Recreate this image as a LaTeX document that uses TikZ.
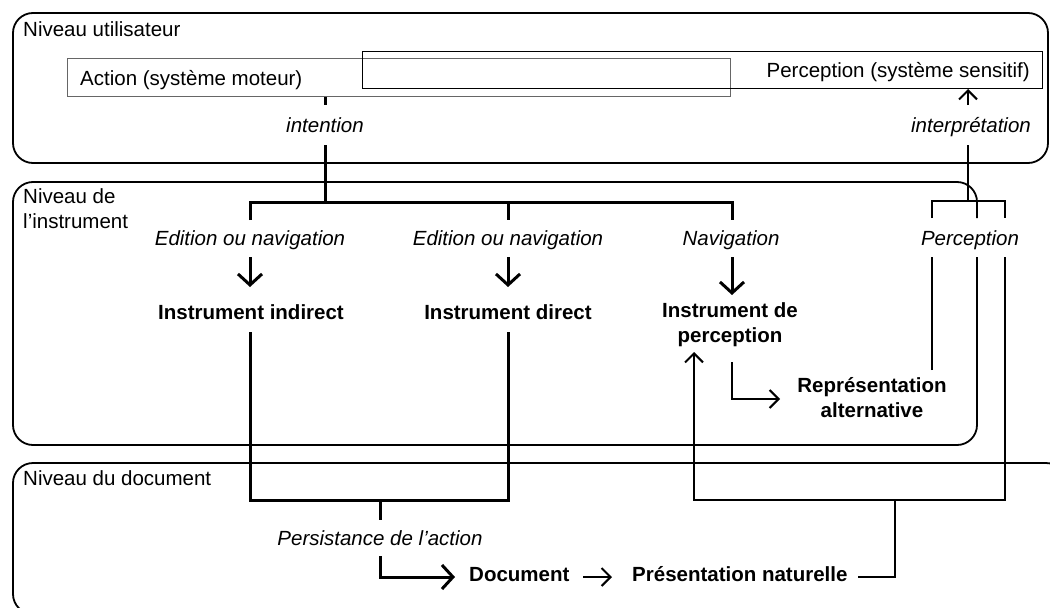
\documentclass[tikz,border=0pt]{standalone}
\usepackage{fontspec}
\setmainfont{Liberation Sans}
\usetikzlibrary{arrows.meta}
\begin{document}
\begin{tikzpicture}[x=1pt,y=-1pt,
  level/.style={line width=1.8pt, rounded corners=20pt},
  txt/.style={inner sep=0pt, font=\fontsize{20.5}{25}\selectfont, anchor=base},
  lbl/.style={txt, font=\fontsize{20.5}{25}\selectfont\itshape},
  inst/.style={txt, font=\fontsize{20.5}{25}\selectfont\bfseries},
  act/.style={line width=3pt},
  per/.style={line width=2pt},
  bigtip/.style={-{Straight Barb[length=11pt,width=24pt]}},
  smalltip/.style={-{Straight Barb[length=9pt,width=18pt]}},
  framebox/.style={inner sep=0pt, anchor=north west}
]
\useasboundingbox (0,0) rectangle (1050,608);
\clip (0,0) rectangle (1050,608);

% level frames
\draw[level] (13,13) rectangle (1048,163);
\draw[level] (977,257) -- (977,445) -- (13,445) -- (13,182) -- (977,182) -- (977,218);
\draw[level] (13,463) rectangle (1066,614);

\node[txt, anchor=base west] (nu) at (23,36) {Niveau utilisateur};
\node[txt, anchor=base west] (ni1) at (23,203) {Niveau de};
\node[txt, anchor=base west] (ni2) at (23,228) {l’instrument};
\node[txt, anchor=base west] (nd) at (23,485) {Niveau du document};

% user level boxes
\node[framebox, draw=black!60, line width=1.2pt, minimum width=663pt, minimum height=38pt] (actbox) at (67,58) {};
\node[framebox, draw, line width=1pt, minimum width=680pt, minimum height=37pt] (perbox) at (362,51) {};
\node[txt, anchor=base west] (action) at (80,85) {Action (système moteur)};
\node[txt, anchor=base east] (perception) at (1030,77) {Perception (système sensitif)};

% labels
\node[lbl] (intention) at (325,132) {intention};
\node[lbl] (interp) at (971,132) {interprétation};
\node[lbl] (ed1) at (250,245) {Edition ou navigation};
\node[lbl] (ed2) at (508,245) {Edition ou navigation};
\node[lbl] (nav) at (731,245) {Navigation};
\node[lbl] (percl) at (970,245) {Perception};
\node[inst] (ii) at (251,319) {Instrument indirect};
\node[inst] (id) at (508,319) {Instrument direct};
\node[inst] (ip1) at (730,317) {Instrument de};
\node[inst] (ip2) at (730,342) {perception};
\node[inst] (ra1) at (872,392) {Représentation};
\node[inst] (ra2) at (872,417) {alternative};
\node[lbl] (pers) at (380,545) {Persistance de l’action};
\node[inst, anchor=base west] (doc) at (469,581) {Document};
\node[inst, anchor=base west] (pres) at (632,581) {Présentation naturelle};

% named junctions
\coordinate (iTop) at (intention |- actbox.south);
\coordinate (tree) at (325,202);
\coordinate (docIn) at (455,577);

% action side (thick)
\draw[act] (iTop) -- (325,105);
\draw[act] (325,145) -- (tree);
\draw[act] (250,220) |- (732,202) -- (732,220);
\draw[act] (508,202) -- (508,220);
\draw[act,bigtip] (250,257) -- (250,287);
\draw[act,bigtip] (508,257) -- (508,287);
\draw[act,bigtip] (732,257) -- (732,295);
\draw[act] (250,332) |- (508,500) -- (508,332);
\draw[act] (380,500) -- (380,520);
\draw[act,bigtip] (380,556) |- (docIn);

% perception side (thinner)
\draw[per,smalltip] (583,577) -- (612,577);
\draw[per] (858,577) -| (895,500);
\draw[per,smalltip] (1005,257) |- (694,500) -- (694,352);
\draw[per,smalltip] (732,362) |- (780,399);
\draw[per] (932,370) -- (932,257);
\draw[per] (932,218) |- (1005,201) -- (1005,218);
\draw[per] (968,201) -- (968,145);
\draw[per,smalltip] (968,105) -- (perbox.south -| 968,0);
\end{tikzpicture}
\end{document}
